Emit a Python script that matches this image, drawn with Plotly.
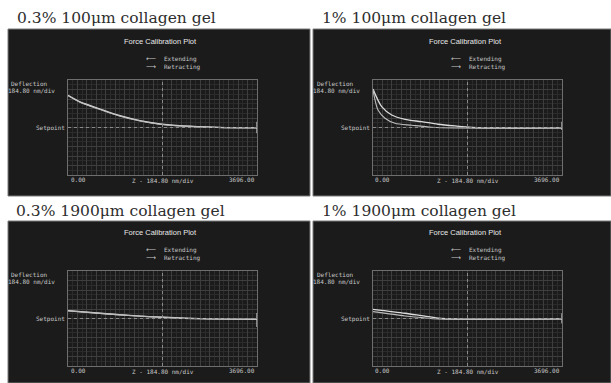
import plotly.graph_objects as go

W, H = 611, 383
DIV = 184.8  # nm per division
X_MAX = 3696.0
Y_HALF = 5 * DIV

panel_titles = ["0.3% 100μm collagen gel", "1% 100μm collagen gel",
                "0.3% 1900μm collagen gel", "1% 1900μm collagen gel"]

# Panel 1: 0.3% 100um
p1_ext_x = [0, 235, 626, 1017, 1408, 1799, 2249, 2914, 3696]
p1_ext_y = [625, 498, 360, 229, 133, 68, 30, 4, -6]
p1_ret_x = [0, 235, 626, 1017, 1408, 1799, 2249, 2914, 3696]
p1_ret_y = [618, 490, 350, 220, 126, 64, 27, 3, -6]
p1_turn_y = [111, -111]

# Panel 2: 1% 100um
p2_ext_x = [0, 170, 366, 626, 952, 1271, 1604, 1936, 2581, 3696]
p2_ext_y = [748, 405, 244, 159, 113, 63, 30, 4, -9, -9]
p2_ret_x = [0, 39, 98, 235, 430, 763, 1154, 1604, 3696]
p2_ret_y = [730, 536, 340, 179, 81, 43, 4, -9, -9]
p2_turn_y = [111, -48]

# Panel 3: 0.3% 1900um
p3_ext_x = [0, 626, 1271, 1858, 2581, 3696]
p3_ext_y = [152, 102, 55, 24, -4, -15]
p3_ret_x = [0, 626, 1271, 1858, 2581, 3696]
p3_ret_y = [148, 99, 53, 23, -4, -15]
p3_turn_y = [107, -166]

# Panel 4: 1% 1900um
p4_ext_x = [0, 626, 950, 1271, 1604, 3696]
p4_ext_y = [179, 102, 55, 9, -9, -9]
p4_ret_x = [0, 626, 950, 1271, 3696]
p4_ret_y = [133, 48, 18, -9, -9]
p4_turn_y = [102, -92]

curves = [
    (p1_ext_x, p1_ext_y, p1_ret_x, p1_ret_y, p1_turn_y),
    (p2_ext_x, p2_ext_y, p2_ret_x, p2_ret_y, p2_turn_y),
    (p3_ext_x, p3_ext_y, p3_ret_x, p3_ret_y, p3_turn_y),
    (p4_ext_x, p4_ext_y, p4_ret_x, p4_ret_y, p4_turn_y),
]

# layout geometry in pixels
panels = [  # black panel box ; plot area ; title pos ; vertical offset of labels
    ((8, 29, 310, 196), (68, 80, 257, 175), (15, 18), 0),
    ((313, 29, 611, 196), (373, 80, 562, 175), (320, 18), 0),
    ((8, 221, 310, 383), (68, 271, 257, 366), (14, 211), 191),
    ((313, 221, 611, 383), (373, 271, 562, 366), (320, 211), 191),
]

def px(x):
    return x / W

def py(y):
    return 1 - y / H

fig = go.Figure()
shapes = []
annotations = []
layout_axes = {}

mono = "DejaVu Sans Mono"
label_col = "#c8c8c8"

def axis_style():
    return dict(showticklabels=False, ticks="", zeroline=False,
                showline=True, mirror=True, linecolor="#6e6e6e", linewidth=1,
                gridcolor="#3e3e3e", gridwidth=1, dtick=DIV, tick0=0,
                minor=dict(showgrid=True, gridcolor="#2b2b2b", gridwidth=1, dtick=DIV / 2))

for i, (box, area, tpos, dy) in enumerate(panels):
    n = i + 1
    xa = "x" if n == 1 else f"x{n}"
    ya = "y" if n == 1 else f"y{n}"
    ext_x, ext_y, ret_x, ret_y, turn_y = curves[i]

    fig.add_trace(go.Scatter(x=ext_x, y=ext_y, mode="lines", xaxis=xa, yaxis=ya,
                             line=dict(color="#dcdcdc", width=1.3, shape="spline", smoothing=0.8),
                             showlegend=False, hoverinfo="skip"))
    fig.add_trace(go.Scatter(x=ret_x, y=ret_y, mode="lines", xaxis=xa, yaxis=ya,
                             line=dict(color="#bcbcbc", width=1.1, shape="spline", smoothing=0.8),
                             showlegend=False, hoverinfo="skip"))
    fig.add_trace(go.Scatter(x=[X_MAX, X_MAX], y=turn_y, mode="lines", xaxis=xa, yaxis=ya,
                             line=dict(color="#d0d0d0", width=1.2),
                             showlegend=False, hoverinfo="skip"))

    bx0, by0, bx1, by1 = box
    shapes.append(dict(type="rect", xref="paper", yref="paper", layer="below",
                       x0=px(bx0), x1=px(bx1), y0=py(by1), y1=py(by0),
                       fillcolor="#1b1b1b", line=dict(color="#7a7a7a", width=1)))

    ax0, ay0, ax1, ay1 = area
    layout_axes["xaxis" if n == 1 else f"xaxis{n}"] = dict(
        domain=[px(ax0), px(ax1)], range=[0, X_MAX], anchor=ya, **axis_style())
    layout_axes["yaxis" if n == 1 else f"yaxis{n}"] = dict(
        domain=[py(ay1), py(ay0)], range=[-Y_HALF, Y_HALF], anchor=xa, **axis_style())

    shapes.append(dict(type="line", xref=xa, yref=ya, x0=X_MAX / 2, x1=X_MAX / 2,
                       y0=-Y_HALF, y1=Y_HALF, line=dict(color="#8a8a8a", width=1, dash="dot")))
    shapes.append(dict(type="line", xref=xa, yref=ya, x0=0, x1=X_MAX,
                       y0=0, y1=0, line=dict(color="#8a8a8a", width=1, dash="dot")))

    annotations.append(dict(text=panel_titles[i], xref="paper", yref="paper",
                            x=px(tpos[0]), y=py(tpos[1]), xanchor="left", yanchor="middle",
                            showarrow=False, font=dict(family="DejaVu Serif", size=15.5, color="#2e2e2e")))

    ox = bx0 - 8
    cx = (ax0 + ax1) / 2
    annotations.append(dict(text="Force Calibration Plot", xref="paper", yref="paper",
                            x=px(ox + 160), y=py(41.5 + dy), xanchor="center", yanchor="middle",
                            showarrow=False, font=dict(family="Liberation Sans", size=7.5, color="#e8e8e8")))
    for j, (arrow, lab) in enumerate([("⟵", "Extending"), ("⟶", "Retracting")]):
        yy = py(58.5 + dy + j * 8)
        annotations.append(dict(text=arrow, xref="paper", yref="paper", x=px(ox + 157), y=yy,
                                xanchor="right", yanchor="middle", showarrow=False, borderpad=0,
                                font=dict(family="DejaVu Sans", size=7, color=label_col)))
        annotations.append(dict(text=lab, xref="paper", yref="paper", x=px(ox + 163), y=yy,
                                xanchor="left", yanchor="middle", showarrow=False, borderpad=0,
                                font=dict(family=mono, size=6, color=label_col)))
    annotations.append(dict(text="Deflection", xref="paper", yref="paper", x=px(ox + 30), y=py(83.3 + dy),
                            xanchor="center", yanchor="middle", showarrow=False,
                            font=dict(family=mono, size=6, color=label_col)))
    annotations.append(dict(text="184.80 nm/div", xref="paper", yref="paper", x=px(ox + 31), y=py(90 + dy),
                            xanchor="center", yanchor="middle", showarrow=False,
                            font=dict(family=mono, size=6, color=label_col)))
    annotations.append(dict(text="Setpoint", xref="paper", yref="paper", x=px(ax0 - 1.5),
                            y=py((ay0 + ay1) / 2), xanchor="right", yanchor="middle", showarrow=False,
                            font=dict(family=mono, size=6, color=label_col)))
    annotations.append(dict(text="0.00", xref="paper", yref="paper", x=px(ax0 + 0.5), y=py(ay1 + 4.5),
                            xanchor="left", yanchor="middle", showarrow=False,
                            font=dict(family=mono, size=6, color=label_col)))
    annotations.append(dict(text="Z - 184.80 nm/div", xref="paper", yref="paper", x=px(cx), y=py(ay1 + 5.5),
                            xanchor="center", yanchor="middle", showarrow=False,
                            font=dict(family=mono, size=6, color=label_col)))
    annotations.append(dict(text="3696.00", xref="paper", yref="paper", x=px(ax1), y=py(ay1 + 4.5),
                            xanchor="right", yanchor="middle", showarrow=False,
                            font=dict(family=mono, size=6, color=label_col)))

fig.update_layout(
    width=W, height=H, margin=dict(l=0, r=0, t=0, b=0),
    paper_bgcolor="white", plot_bgcolor="rgba(0,0,0,0)",
    shapes=shapes, annotations=annotations, showlegend=False,
    **layout_axes,
)

fig.write_html("out.html", config={"displayModeBar": False},
               post_script="document.body.style.margin='0';document.body.style.overflow='hidden';")
